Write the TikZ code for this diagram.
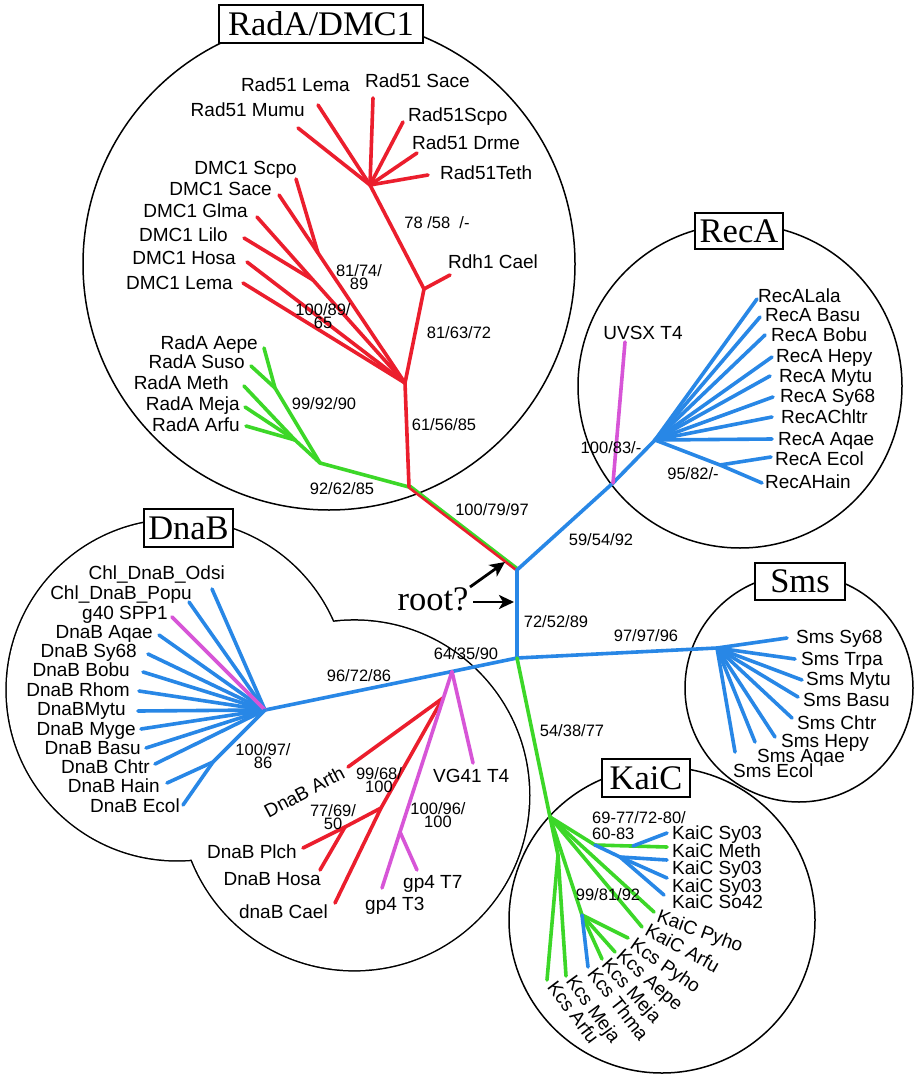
\documentclass[tikz,border=0pt]{standalone}
\usepackage{fontspec}
\setmainfont{Liberation Serif}
\setsansfont{Liberation Sans}
\usetikzlibrary{arrows.meta}
\definecolor{tred}{RGB}{235,30,45}
\definecolor{tgreen}{RGB}{60,215,40}
\definecolor{tblue}{RGB}{40,135,230}
\definecolor{tmag}{RGB}{215,85,215}
\begin{document}
\begin{tikzpicture}[x=1pt,y=-1pt,
  br/.style={line width=3.6pt,line cap=round,line join=round},
  lab/.style={font=\sffamily\fontsize{19}{20}\selectfont,inner sep=0pt,text height=14pt,text depth=0pt},
  bs/.style={font=\sffamily\fontsize{16.5}{13.5}\selectfont,inner sep=0pt,align=center},
  ttl/.style={draw,line width=1.8pt,fill=white,font=\fontsize{34.5}{36}\selectfont,inner sep=0pt},
  clade/.style={line width=1.5pt},
  rootarrow/.style={line width=2.8pt,-{Stealth[length=15pt,width=14pt,inset=4pt]}}]
\useasboundingbox (0,0) rectangle (914,1075);
\fill[white] (0,0) rectangle (914,1075);
% ---------- clade outlines ----------
\draw[clade] (329,264) circle[radius=246];
\draw[clade] (740,386) circle[radius=162];
\draw[clade] (799,688) circle[radius=114];
\draw[clade] (662,920) circle[radius=153];
\draw[line width=3pt] (177,690) circle[radius=170.2] (354.3,795.4) circle[radius=174.7];
\fill[white] (177,690) circle[radius=170.2] (354.3,795.4) circle[radius=174.7];
% ---------- titles ----------
\node[ttl,minimum width=204pt,minimum height=38pt] (tRad) at (321,24) {RadA/DMC1};
\node[ttl,minimum width=88pt,minimum height=36pt] (tRec) at (739,231) {RecA};
\node[ttl,minimum width=89pt,minimum height=38pt] (tDna) at (188.5,528) {DnaB};
\node[ttl,minimum width=90pt,minimum height=37pt] (tSms) at (800,581.5) {Sms};
\node[ttl,minimum width=88pt,minimum height=38pt] (tKai) at (646,778) {KaiC};
% ---------- inner nodes ----------
\coordinate (R1) at (517,570);
\coordinate (Nm) at (517,658);
\coordinate (G1) at (409,487);
\coordinate (RC0) at (613,483);
\coordinate (RC1) at (655,440);
\coordinate (RC2) at (720,465);
\coordinate (S0) at (717,648);
\coordinate (D0) at (265,710);
\coordinate (D1) at (213,762);
\coordinate (M0) at (452,671.5);
\coordinate (M1) at (400,832);
\coordinate (M2) at (443,698);
\coordinate (M3) at (381,808);
\coordinate (M4) at (345,827);
\coordinate (K0) at (550,817);
\coordinate (K1) at (595,845);
\coordinate (K1b) at (633,846);
\coordinate (K2) at (620,857);
\coordinate (K3) at (582,915);
\coordinate (K4) at (558,855);
\coordinate (GA) at (320,463);
\coordinate (GA1) at (275,388);
\coordinate (GA2) at (295,440);
\coordinate (RN1) at (405,383);
\coordinate (RN2) at (424,289);
\coordinate (RN3) at (370,185);
\coordinate (DN1) at (318,253);
\coordinate (DN2) at (313,280);
% ---------- tips ----------
\coordinate (tLema) at (318,105);
\coordinate (tMumu) at (298,128);
\coordinate (tSace) at (373,98);
\coordinate (tScpo) at (403,122);
\coordinate (tDrme) at (417,153);
\coordinate (tTeth) at (428,175);
\coordinate (tRdh) at (450,275);
\coordinate (dScpo) at (296,179);
\coordinate (dSace) at (279,195);
\coordinate (dGlma) at (257,217);
\coordinate (dLilo) at (244,238);
\coordinate (dHosa) at (247,262);
\coordinate (dLema) at (243,283);
\coordinate (aAepe) at (264,348);
\coordinate (aSuso) at (251,366);
\coordinate (aMeth) at (244,386);
\coordinate (aMeja) at (245,407);
\coordinate (aArfu) at (246,426);
\coordinate (rUvsx) at (625,342);
\coordinate (rLala) at (757,299);
\coordinate (rBasu) at (760,317);
\coordinate (rBobu) at (765,335);
\coordinate (rHepy) at (772,357);
\coordinate (rMytu) at (770,376);
\coordinate (rSy68) at (773,397);
\coordinate (rChltr) at (772,417);
\coordinate (rAqae) at (772,439);
\coordinate (rEcol) at (771,457);
\coordinate (rHain) at (762,483);
\coordinate (sSy68) at (787,638);
\coordinate (sTrpa) at (795,659);
\coordinate (sMytu) at (802,680);
\coordinate (sBasu) at (798,697);
\coordinate (sChtr) at (792,718);
\coordinate (sHepy) at (775,737);
\coordinate (sAqae) at (755,742);
\coordinate (sEcol) at (735,752);
\coordinate (kSya) at (667,833);
\coordinate (kMeth) at (667,847);
\coordinate (kSyb) at (667,860);
\coordinate (kSyc) at (667,878);
\coordinate (kSo) at (664,895);
\coordinate (kPyho) at (654,912);
\coordinate (kArfu) at (642,927);
\coordinate (cPyho) at (628,938);
\coordinate (cAepe) at (615,952);
\coordinate (cMeja) at (602,959);
\coordinate (cThma) at (588,967);
\coordinate (cMejb) at (566,976);
\coordinate (cArfu) at (547,980);
\coordinate (nOdsi) at (212,589);
\coordinate (nPopu) at (189,602);
\coordinate (nG40) at (172,617);
\coordinate (nAqae) at (159,635);
\coordinate (nSy68) at (148,654);
\coordinate (nBobu) at (143,672);
\coordinate (nRhom) at (139,691);
\coordinate (nMytu) at (138,711);
\coordinate (nMyge) at (141,729);
\coordinate (nBasu) at (146,748);
\coordinate (nChtr) at (155,764);
\coordinate (nHain) at (167,783);
\coordinate (nEcol) at (183,805);
\coordinate (nVG) at (473,763);
\coordinate (nT3) at (382,888);
\coordinate (nT7) at (417,870);
\coordinate (nArth) at (348,767);
\coordinate (nCael) at (335,903);
\coordinate (nPlch) at (303,848);
\coordinate (nHosa) at (320,870);
% ---------- branches ----------
% RadA / DMC1
\draw[br,tred] (G1) -- (R1);
\draw[br,tgreen,line width=2pt] ([shift={(1.4,-1.4)}]G1) -- ([shift={(1.4,-1.4)}]R1);
\draw[br,tgreen] (G1) -- (GA);
\draw[br,tgreen] (GA) -- (GA1) -- (aAepe);
\draw[br,tgreen] (GA1) -- (aSuso);
\draw[br,tgreen] (GA) -- (GA2);
\draw[br,tgreen] (GA2) -- (aMeth);
\draw[br,tgreen] (GA2) -- (aMeja);
\draw[br,tgreen] (GA2) -- (aArfu);
\draw[br,tred] (G1) -- (RN1) -- (RN2) -- (RN3);
\draw[br,tred] (RN2) -- (tRdh);
\foreach \t in {tLema,tMumu,tSace,tScpo,tDrme,tTeth} \draw[br,tred] (RN3) -- (\t);
\draw[br,tred] (RN1) -- (DN1) -- (dScpo);
\draw[br,tred] (DN1) -- (dSace);
\draw[br,tred] (RN1) -- (DN2) -- (dGlma);
\draw[br,tred] (DN2) -- (dLilo);
\draw[br,tred] (RN1) -- (dHosa);
\draw[br,tred] (RN1) -- (dLema);
% backbone
\draw[br,tblue] (R1) -- (RC0) -- (RC1);
\draw[br,tblue] (R1) -- (Nm);
\draw[br,tblue] (D0) -- (M0) -- (Nm) -- (S0) -- (sSy68);
\draw[br,tgreen] (Nm) -- (K0);
% RecA
\draw[br,tmag] (RC0) -- (rUvsx);
\foreach \t in {rLala,rBasu,rBobu,rHepy,rMytu,rSy68,rChltr,rAqae} \draw[br,tblue] (RC1) -- (\t);
\draw[br,tblue] (RC1) -- (RC2) -- (rHain);
\draw[br,tblue] (RC2) -- (rEcol);
% Sms
\foreach \t in {sTrpa,sMytu,sBasu,sChtr,sHepy,sAqae,sEcol} \draw[br,tblue] (S0) -- (\t);
% DnaB
\foreach \t in {nOdsi,nPopu,nAqae,nSy68,nBobu,nRhom,nMytu,nMyge,nBasu,nChtr} \draw[br,tblue] (D0) -- (\t);
\draw[br,tmag] (D0) -- (nG40);
\draw[br,tblue] (D0) -- (D1) -- (nHain);
\draw[br,tblue] (D1) -- (nEcol);
\draw[br,tred] (M2) -- (nArth);
\draw[br,tred] (M2) -- (M3) -- (nCael);
\draw[br,tred] (M3) -- (M4) -- (nPlch);
\draw[br,tred] (M4) -- (nHosa);
\draw[br,tmag] (M0) -- (nVG);
\draw[br,tmag] (M0) -- (M1) -- (nT3);
\draw[br,tmag] (M1) -- (nT7);
% KaiC
\draw[br,tgreen] (K0) -- (K1) -- (kMeth);
\draw[br,tblue] (K1) -- (K2) -- (kSyb);
\draw[br,tblue] (K2) -- (kSyc);
\draw[br,tblue] (K2) -- (kSo);
\draw[br,tblue] (K1b) -- (kSya);
\draw[br,tgreen] (K0) -- (kPyho);
\draw[br,tgreen] (K0) -- (kArfu);
\draw[br,tgreen] (K0) -- (K3) -- (cPyho);
\draw[br,tgreen] (K3) -- (cAepe);
\draw[br,tgreen] (K3) -- (cMeja);
\draw[br,tblue] (K3) -- (cThma);
\draw[br,tgreen] (K0) -- (K4) -- (cMejb);
\draw[br,tgreen] (K4) -- (cArfu);
% ---------- tip labels ----------
\node[lab,anchor=east] (LRLema) at (350,85) {Rad51 Lema};
\node[lab,anchor=east] (LRMumu) at (305,110) {Rad51 Mumu};
\node[lab,anchor=west] (LRSace) at (365,81) {Rad51 Sace};
\node[lab,anchor=west] (LRScpo) at (408,115) {Rad51Scpo};
\node[lab,anchor=west] (LRDrme) at (412,143) {Rad51 Drme};
\node[lab,anchor=west] (LRTeth) at (440,173) {Rad51Teth};
\node[lab,anchor=west] (LRdh) at (448,262) {Rdh1 Cael};
\node[lab,anchor=east] (LDScpo) at (297,168) {DMC1 Scpo};
\node[lab,anchor=east] (LDSace) at (272,189) {DMC1 Sace};
\node[lab,anchor=east] (LDGlma) at (248,211) {DMC1 Glma};
\node[lab,anchor=east] (LDLilo) at (228,234) {DMC1 Lilo};
\node[lab,anchor=east] (LDHosa) at (236,258) {DMC1 Hosa};
\node[lab,anchor=east] (LDLema) at (233,282) {DMC1 Lema};
\node[lab,anchor=east] (LAAepe) at (258,342) {RadA Aepe};
\node[lab,anchor=east] (LASuso) at (245,361) {RadA Suso};
\node[lab,anchor=east] (LAMeth) at (229,382) {RadA Meth};
\node[lab,anchor=east] (LAMeja) at (240,403) {RadA Meja};
\node[lab,anchor=east] (LAArfu) at (240,424) {RadA Arfu};
\node[lab] (LUvsx) at (643,332) {UVSX T4};
\node[lab,anchor=west] (LrLala) at (758,295) {RecALala};
\node[lab,anchor=west] (LrBasu) at (765,314) {RecA Basu};
\node[lab,anchor=west] (LrBobu) at (771,334) {RecA Bobu};
\node[lab,anchor=west] (LrHepy) at (776,355) {RecA Hepy};
\node[lab,anchor=west] (LrMytu) at (779,375) {RecA Mytu};
\node[lab,anchor=west] (LrSy68) at (780,395) {RecA Sy68};
\node[lab,anchor=west] (LrChltr) at (781,416) {RecAChltr};
\node[lab,anchor=west] (LrAqae) at (778,438) {RecA Aqae};
\node[lab,anchor=west] (LrEcol) at (775,458) {RecA Ecol};
\node[lab,anchor=west] (LrHain) at (765,481) {RecAHain};
\node[lab,anchor=west] (LsSy68) at (796,636) {Sms Sy68};
\node[lab,anchor=west] (LsTrpa) at (801,658) {Sms Trpa};
\node[lab,anchor=west] (LsMytu) at (806,678) {Sms Mytu};
\node[lab,anchor=west] (LsBasu) at (803,699) {Sms Basu};
\node[lab,anchor=west] (LsChtr) at (797,722) {Sms Chtr};
\node[lab,anchor=west] (LsHepy) at (781,740) {Sms Hepy};
\node[lab,anchor=west] (LsAqae) at (757,755) {Sms Aqae};
\node[lab,anchor=west] (LsEcol) at (733,770) {Sms Ecol};
\node[lab,anchor=west] (LkSya) at (672,832) {KaiC Sy03};
\node[lab,anchor=west] (LkMeth) at (672,850) {KaiC Meth};
\node[lab,anchor=west] (LkSyb) at (672,867) {KaiC Sy03};
\node[lab,anchor=west] (LkSyc) at (672,885) {KaiC Sy03};
\node[lab,anchor=west] (LkSo) at (672,901) {KaiC So42};
\node[lab,anchor=west,rotate=-20] (LkPyho) at (658,915) {KaiC Pyho};
\node[lab,anchor=west,rotate=-29] (LkArfu) at (647,928) {KaiC Arfu};
\node[lab,anchor=west,rotate=-35] (LcPyho) at (633,942) {Kcs Pyho};
\node[lab,anchor=west,rotate=-42] (LcAepe) at (620,952) {Kcs Aepe};
\node[lab,anchor=west,rotate=-48] (LcMeja) at (606,961) {Kcs Meja};
\node[lab,anchor=west,rotate=-52] (LcThma) at (592,970) {Kcs Thma};
\node[lab,anchor=west,rotate=-54] (LcMejb) at (571,977) {Kcs Meja};
\node[lab,anchor=west,rotate=-53] (LcArfu) at (552,983) {Kcs Arfu};
\node[lab,anchor=east] (LnOdsi) at (225,572) {Chl\_DnaB\_Odsi};
\node[lab,anchor=east] (LnPopu) at (192,592) {Chl\_DnaB\_Popu};
\node[lab,anchor=east] (LnG40) at (168,612) {g40 SPP1};
\node[lab,anchor=east] (LnAqae) at (153,631) {DnaB Aqae};
\node[lab,anchor=east] (LnSy68) at (137,650) {DnaB Sy68};
\node[lab,anchor=east] (LnBobu) at (130,669) {DnaB Bobu};
\node[lab,anchor=east] (LnRhom) at (130,689) {DnaB Rhom};
\node[lab,anchor=east] (LnMytu) at (126,708) {DnaBMytu};
\node[lab,anchor=east] (LnMyge) at (136,728) {DnaB Myge};
\node[lab,anchor=east] (LnBasu) at (141,747) {DnaB Basu};
\node[lab,anchor=east] (LnChtr) at (150,766) {DnaB Chtr};
\node[lab,anchor=east] (LnHain) at (160,785) {DnaB Hain};
\node[lab,anchor=east] (LnEcol) at (180,805) {DnaB Ecol};
\node[lab,anchor=east,rotate=28] (LnArth) at (343,771) {DnaB Arth};
\node[lab,anchor=east] (LnPlch) at (297,851) {DnaB Plch};
\node[lab,anchor=east] (LnHosa) at (321,878) {DnaB Hosa};
\node[lab,anchor=east] (LnCael) at (328,911) {dnaB Cael};
\node[lab,anchor=west] (LnT3) at (365,903) {gp4 T3};
\node[lab,anchor=west] (LnT7) at (403,881) {gp4 T7};
\node[lab,anchor=west] (LnVG) at (433,775) {VG41 T4};
% ---------- support values ----------
\node[bs] (b1) at (437,223) {78 /58 \ /-};
\node[bs] (b2) at (459,333) {81/63/72};
\node[bs] (b3) at (444,425) {61/56/85};
\node[bs] (b4) at (359,277) {81/74/\\89};
\node[bs] (b5) at (323,316) {100/89/\\65};
\node[bs] (b6) at (324,404) {99/92/90};
\node[bs] (b7) at (342,489) {92/62/85};
\node[bs] (b8) at (492,510) {100/79/97};
\node[bs] (b9) at (601,540) {59/54/92};
\node[bs] (b10) at (611,448) {100/83/-};
\node[bs] (b11) at (693,474) {95/82/-};
\node[bs] (b12) at (556,622) {72/52/89};
\node[bs] (b13) at (646,636) {97/97/96};
\node[bs] (b14) at (572,731) {54/38/77};
\node[bs] (b15) at (466,654) {64/35/90};
\node[bs] (b16) at (359,676) {96/72/86};
\node[bs] (b17) at (263,756) {100/97/\\86};
\node[bs] (b18) at (379,780) {99/68/\\100};
\node[bs] (b19) at (333,817) {77/69/\\50};
\node[bs] (b20) at (438,815) {100/96/\\100};
\node[bs,font=\sffamily\fontsize{16.5}{16}\selectfont,align=left,anchor=west] (b21) at (592,826) {69-77/72-80/\\60-83};
\node[bs] (b22) at (608,895) {99/81/92};
% ---------- root ----------
\node[font=\fontsize{34.5}{36}\selectfont,inner sep=0pt] (root) at (433,599) {root?};
\coordinate (a1s) at (470,587);
\coordinate (a1e) at (505,562);
\coordinate (a2s) at (473,602);
\coordinate (a2e) at (514,602);
\draw[rootarrow] (a1s) -- (a1e);
\draw[rootarrow] (a2s) -- (a2e);
\end{tikzpicture}
\end{document}
